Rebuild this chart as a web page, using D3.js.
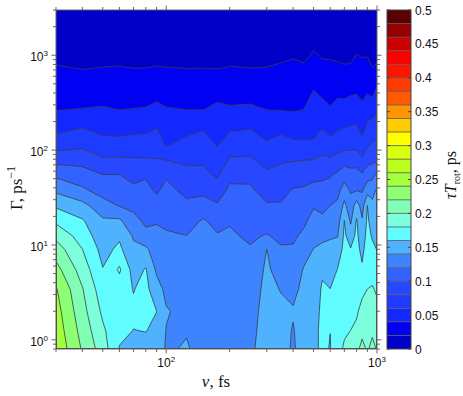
<!DOCTYPE html>
<html><head><meta charset="utf-8">
<script src="https://cdn.jsdelivr.net/npm/d3@7"></script>
<style>body{margin:0;background:#fff}svg{display:block}</style>
</head><body><svg id="c" width="463" height="396"></svg>
<script>
// ν (fs) grid columns
const nu = [30,40,50,60,70,80,90,100,125,150,175,200,250,300,350,400,450,500,550,600,650,700,750,800,850,900,950,1000];
// Γ (ps^-1) grid rows, top to bottom
const gamma = [3000,1440,745,430,265,160,113,78,55,38,26,18,12.5,9,5.5,3.4,2,1.25,0.8];
// τ values (ps), one array per Γ row, one entry per ν column
const tau = [
[.004,.004,.004,.004,.004,.004,.004,.004,.004,.004,.004,.004,.004,.004,.004,.003,.003,.004,.004,.004,.004,.004,.004,.004,.004,.004,.004,.004],
[.011,.010,.011,.011,.011,.011,.011,.011,.011,.011,.011,.011,.011,.011,.0115,.012,.0115,.015,.0125,.0125,.012,.012,.012,.014,.0125,.0125,.0115,.012],
[.021,.019,.0201,.0205,.0196,.0197,.0205,.0201,.0195,.0196,.019,.0205,.0197,.0201,.0217,.0236,.0217,.0279,.0235,.023,.0222,.0211,.0213,.0256,.0241,.0249,.0201,.0213],
[.031,.030,.0315,.031,.0307,.031,.0326,.0315,.0302,.0305,.0333,.0317,.0316,.0307,.0313,.0318,.0317,.0401,.035,.0328,.035,.0343,.0361,.0374,.0345,.0373,.0328,.0436],
[.0396,.041,.042,.0401,.0408,.0416,.0452,.0415,.0401,.0401,.0443,.0425,.0436,.0401,.0396,.0389,.0404,.0477,.0471,.042,.0471,.0474,.0497,.0503,.0446,.052,.0517,.0579],
[.0565,.063,.0559,.0548,.0567,.0576,.0619,.0515,.056,.0601,.0528,.0592,.0614,.0529,.0573,.0526,.0525,.0554,.0615,.0553,.0601,.0623,.0636,.0641,.056,.0669,.0711,.0726],
[.0716,.076,.0686,.068,.070,.0696,.0716,.0585,.0667,.0683,.0591,.0708,.0721,.0629,.068,.0648,.0642,.0635,.0726,.068,.072,.0738,.0743,.0745,.068,.0772,.0826,.0843],
[.094,.093,.083,.083,.0822,.082,.0811,.0801,.0767,.0767,.0679,.0824,.0832,.0736,.078,.079,.0801,.0809,.084,.083,.0867,.0917,.0917,.0917,.0838,.0938,.0957,.0974],
[.116,.109,.1002,.1002,.0933,.098,.0892,.0976,.0861,.0856,.077,.0944,.0952,.0836,.0863,.0915,.092,.0939,.096,.098,.1036,.1118,.1071,.1074,.1021,.1111,.1133,.1244],
[.136,.123,.112,.109,.1043,.1048,.0973,.1051,.0952,.095,.0891,.1039,.1029,.0927,.0942,.1011,.1023,.1064,.1059,.1093,.1143,.1289,.1179,.1185,.1179,.1317,.1333,.1423],
[.157,.146,.128,.119,.115,.1104,.1074,.111,.1039,.1082,.1022,.1112,.1076,.1019,.1018,.1063,.1093,.1184,.1147,.1201,.1236,.145,.1275,.150,.1313,.1601,.1444,.1466],
[.176,.162,.1429,.143,.1262,.116,.1185,.1169,.1122,.122,.1133,.1185,.1124,.1113,.1086,.1116,.1163,.1265,.1243,.1291,.1313,.1601,.1369,.1618,.142,.1635,.1511,.1509],
[.195,.171,.148,.157,.1377,.1253,.1246,.1218,.1202,.125,.1215,.1225,.1171,.1213,.1155,.1168,.1238,.134,.135,.1382,.139,.1635,.150,.1645,.148,.167,.1578,.1551],
[.2096,.1802,.1536,.164,.1444,.1436,.130,.1257,.124,.127,.1245,.1255,.1215,.1402,.1221,.122,.1319,.1405,.1448,.1446,.1484,.166,.1612,.167,.154,.1705,.1647,.1594],
[.227,.191,.1608,.183,.1519,.1615,.1371,.1309,.128,.129,.127,.128,.126,.1435,.1306,.1288,.1415,.144,.157,.1523,.1605,.169,.165,.171,.1633,.175,.174,.1684],
[.242,.2014,.1685,.169,.1593,.166,.1469,.1361,.132,.131,.129,.130,.129,.146,.1391,.1356,.1445,.148,.1625,.1603,.164,.172,.170,.1745,.1767,.1801,.1815,.1778],
[.248,.207,.1762,.167,.163,.165,.1602,.1412,.1355,.132,.130,.131,.132,.148,.1445,.1415,.147,.152,.164,.161,.167,.175,.175,.178,.1845,.1845,.1875,.1842],
[.252,.2127,.1834,.164,.1597,.1605,.156,.1395,.139,.133,.131,.132,.134,.149,.147,.1388,.149,.154,.165,.1602,.171,.178,.1801,.183,.190,.189,.193,.1905],
[.256,.218,.190,.159,.155,.154,.150,.138,.1415,.134,.132,.133,.136,.150,.149,.137,.151,.155,.164,.159,.175,.182,.185,.190,.212,.195,.212,.197]
];
// contour levels and colour of each band [level, level+0.02)
const levels = [0,.02,.04,.06,.08,.10,.12,.14,.16,.18,.20,.22,.24,.26,.28,.30,.32,.34,.36,.38,.40,.42,.44,.46,.48];
const bandColors = ["#0000c8","#0000f2","#1228ff","#1e3cff","#2848ff","#3262ff","#3e84ff","#4fb2ff","#60fcff","#7cffdc","#80ffb4","#8cff72","#a4ff3c","#bcff1e","#d8ff0c","#ffff00","#ffcc00","#ff9600","#ff5a00","#ff3c00","#ff1400","#ff0000","#cc0000","#960000","#5a0000"];
const cbTicks = [0,0.05,0.1,0.15,0.2,0.25,0.3,0.35,0.4,0.45,0.5];
const xMajor = [100,1000];
const yMajor = [1,10,100,1000];

const svg = d3.select("#c");
const L = 56, R = 377, T = 10, B = 349;
const x = d3.scaleLog().domain([30,1000]).range([L,R]);
const y = d3.scaleLog().domain([0.8,3000]).range([B,T]);
const n = nu.length, m = gamma.length;
const values = tau.flat();
const lx = nu.map(Math.log10), ly = gamma.map(Math.log10);
function gi(arr, c){
  const t = Math.max(0, Math.min(arr.length-1, c-0.5));
  const i = Math.min(arr.length-2, Math.floor(t)), f = t-i;
  return arr[i]*(1-f)+arr[i+1]*f;
}
const proj = p => [x(10**gi(lx,p[0])), y(10**gi(ly,p[1]))];
const contours = d3.contours().size([n,m]).thresholds(levels)(values);
function pathOf(geom){
  let s = "";
  geom.coordinates.forEach(poly => poly.forEach(ring => {
    s += "M" + ring.map(p => proj(p).map(v=>v.toFixed(2)).join(",")).join("L") + "Z";
  }));
  return s;
}
svg.append("clipPath").attr("id","pc").append("rect").attr("x",L).attr("y",T).attr("width",R-L).attr("height",B-T);
const g = svg.append("g").attr("clip-path","url(#pc)");
contours.forEach((c,i) => {
  g.append("path").attr("d", pathOf(c)).attr("fill", bandColors[i]).attr("fill-rule","evenodd");
});
contours.forEach((c,i) => {
  if (i===0) return;
  g.append("path").attr("d", pathOf(c)).attr("fill","none").attr("stroke","#3c3c3c").attr("stroke-width",0.8);
});
// frame
svg.append("rect").attr("x",L).attr("y",T).attr("width",R-L).attr("height",B-T).attr("fill","none").attr("stroke","#666").attr("stroke-width",1);

// ticks
const ax = svg.append("g").attr("stroke","#666").attr("stroke-width",1);
const xt = [];
for (let d=10; d<=1000; d*=10) for (let k=1;k<10;k++){ const v=d*k; if (v>=30 && v<=1000) xt.push(v); }
xt.forEach(v => {
  const len = xMajor.includes(v) ? 4.5 : 3;
  const px = x(v);
  ax.append("line").attr("x1",px).attr("x2",px).attr("y1",B).attr("y2",B+len);
  ax.append("line").attr("x1",px).attr("x2",px).attr("y1",T).attr("y2",T-len);
});
const yt = [];
for (let d=0.1; d<=1000; d*=10) for (let k=1;k<10;k++){ const v=+(d*k).toPrecision(3); if (v>=0.8 && v<=3000) yt.push(v); }
yt.forEach(v => {
  const len = yMajor.includes(v) ? 4.5 : 3;
  const py = y(v);
  ax.append("line").attr("y1",py).attr("y2",py).attr("x1",L).attr("x2",L-len);
  ax.append("line").attr("y1",py).attr("y2",py).attr("x1",R).attr("x2",R+len);
});
const font = "'Liberation Sans', Arial, sans-serif";
const serif = "'Liberation Serif', 'Times New Roman', serif";
xMajor.forEach(v => {
  const t = svg.append("text").attr("x",x(v)).attr("y",367).attr("text-anchor","middle")
    .attr("font-family",font).attr("font-size",12).attr("fill","#111");
  t.append("tspan").text("10");
  t.append("tspan").attr("dy",-5).attr("font-size",8).text(Math.round(Math.log10(v)));
});
yMajor.forEach(v => {
  const t = svg.append("text").attr("x",48).attr("y",y(v)+6).attr("text-anchor","end")
    .attr("font-family",font).attr("font-size",12).attr("fill","#111");
  t.append("tspan").text("10");
  t.append("tspan").attr("dy",-5).attr("font-size",8).text(Math.round(Math.log10(v)));
});
// axis titles
const xl = svg.append("text").attr("x",216).attr("y",387).attr("text-anchor","middle")
  .attr("font-family",serif).attr("font-size",17).attr("fill","#111");
xl.append("tspan").attr("font-style","italic").text("ν");
xl.append("tspan").text(", fs");
const yl = svg.append("text").attr("transform","translate(22,188) rotate(-90)").attr("text-anchor","middle")
  .attr("font-family",serif).attr("font-size",17).attr("fill","#111");
yl.append("tspan").text("Γ, ps");
yl.append("tspan").attr("dy",-7).attr("font-size",12).text("−1");

// colorbar
const cx0 = 387, cx1 = 411;
const cb = d3.scaleLinear().domain([0,0.5]).range([B,T]);
const cg = svg.append("g");
levels.forEach((lv,i) => {
  cg.append("rect").attr("x",cx0).attr("y",cb(lv+0.02)).attr("width",cx1-cx0).attr("height",cb(lv)-cb(lv+0.02)).attr("fill",bandColors[i]);
});
levels.slice(1).forEach(lv => {
  cg.append("line").attr("x1",cx0).attr("x2",cx1).attr("y1",cb(lv)).attr("y2",cb(lv)).attr("stroke","#555").attr("stroke-width",0.8);
});
cg.append("rect").attr("x",cx0).attr("y",T).attr("width",cx1-cx0).attr("height",B-T).attr("fill","none").attr("stroke","#444").attr("stroke-width",1);
cbTicks.forEach(v => {
  cg.append("line").attr("x1",cx1).attr("x2",cx1-3).attr("y1",cb(v)).attr("y2",cb(v)).attr("stroke","#444");
  cg.append("line").attr("x1",cx0).attr("x2",cx0+3).attr("y1",cb(v)).attr("y2",cb(v)).attr("stroke","#444");
  cg.append("text").attr("x",415).attr("y",cb(v)+4.5).attr("font-family",font).attr("font-size",12).attr("fill","#111")
    .text(v===0 ? "0" : String(v));
});
const cl = svg.append("text").attr("transform","translate(456,175) rotate(-90)").attr("text-anchor","middle")
  .attr("font-family",serif).attr("font-size",16).attr("fill","#111");
cl.append("tspan").attr("font-style","italic").text("τ");
cl.append("tspan").attr("font-style","italic").text("T");
cl.append("tspan").attr("dy",4).attr("font-size",10).text("rot");
cl.append("tspan").attr("dy",-4).text(", ps");
</script></body></html>
